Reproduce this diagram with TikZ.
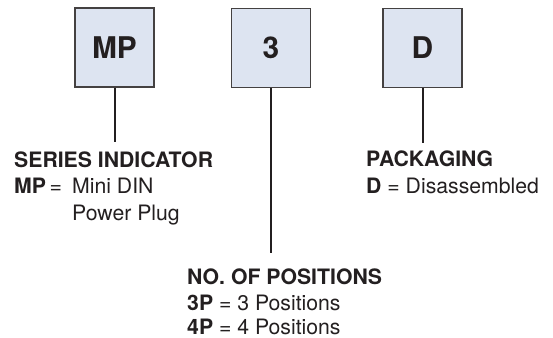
\documentclass[tikz,border=0pt]{standalone}
\usepackage{fontspec}
\setmainfont{TeX Gyre Heros}
\usetikzlibrary{positioning}
\definecolor{boxfill}{HTML}{DDE4F1}
\definecolor{ink}{HTML}{231F20}
\tikzset{
    codebox/.style={draw=ink!85, fill=boxfill, line width=1.2bp, minimum size=79bp,
        inner sep=0pt, text=ink, font=\fontsize{30}{30}\selectfont\bfseries},
    lead/.style={draw=ink, line width=2bp},
    txt/.style={anchor=base west, inner sep=0pt, text=ink, font=\fontsize{21.3}{25}\selectfont},
    head/.style={txt, font=\fontsize{21.3}{25}\selectfont\bfseries}
}
\begin{document}
\begin{tikzpicture}[x=1bp, y=-1bp]
    \useasboundingbox (0,0) rectangle (553,337);
    % code boxes
    \node[codebox] (mp) at (114.5,47.5) {MP};
    \node[codebox] (pos) at (271,48) {3};
    \node[codebox] (pack) at (422.5,48) {D};
    % ends of the leads
    \coordinate (mpend) at (114.5,142);
    \coordinate (posend) at (271,253);
    \coordinate (packend) at (422.5,143);
    \draw[lead] (mp.south) -- (mpend);
    \draw[lead] (pos.south) -- (posend);
    \draw[lead] (pack.south) -- (packend);
    % series indicator
    \node[head] (serhead) at (14,167) {SERIES INDICATOR};
    \node[txt] (serkey) at (14,193) {\textbf{MP}\,=};
    \node[txt] (serval) at (72,193) {Mini DIN};
    \node[txt] (servalb) at (72,220) {Power Plug};
    % packaging
    \node[head] (packhead) at (366,166) {PACKAGING};
    \node[txt] (packval) at (366,193) {\textbf{D} = Disassembled};
    % positions
    \node[head] (poshead) at (187,284) {NO. OF POSITIONS};
    \node[txt] (posvala) at (187,310) {\textbf{3P} = 3 Positions};
    \node[txt] (posvalb) at (187,334) {\textbf{4P} = 4 Positions};
\end{tikzpicture}
\end{document}
